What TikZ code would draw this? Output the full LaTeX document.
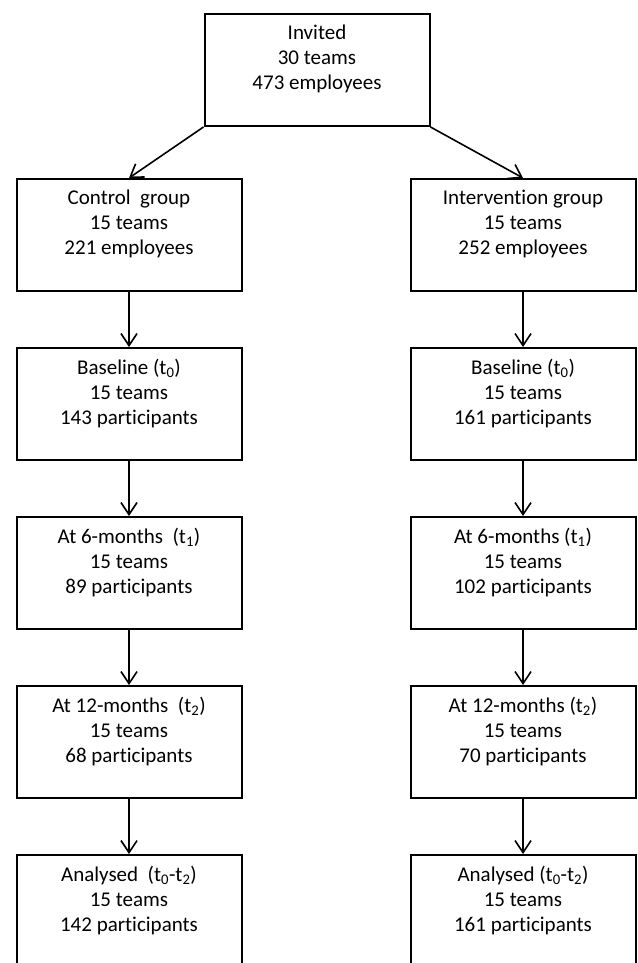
\documentclass[tikz,border=0pt]{standalone}
\usepackage{fontspec}
\setmainfont{Carlito}[Ligatures=CommonOff]
\usetikzlibrary{arrows.meta}
\begin{document}
\begin{tikzpicture}[x=1pt,y=-1pt,
  box/.style={draw=black, line width=2pt, rectangle, minimum width=225pt, minimum height=112pt,
    inner sep=0pt, align=center, anchor=north, font=\fontsize{21}{25}\selectfont},
  arr/.style={draw=black, line width=1.6pt, -{Straight Barb[length=12pt,width=16pt,line width=1.6pt]}}
]
\useasboundingbox (0,0) rectangle (637,963);
\node[box] (inv) at (317,13) {Invited\\30 teams\\473 employees\\\mbox{}};
\node[box] (c1) at (129,178) {Control~ group\\15 teams\\221 employees\\\mbox{}};
\node[box] (i1) at (523,178) {Intervention group\\15 teams\\252 employees\\\mbox{}};
\node[box] (c2) at (129,347) {Baseline (t\textsubscript{0})\\15 teams\\143 participants\\\mbox{}};
\node[box] (i2) at (523,347) {Baseline (t\textsubscript{0})\\15 teams\\161 participants\\\mbox{}};
\node[box] (c3) at (129,516) {At 6-months~ (t\textsubscript{1})\\15 teams\\89 participants\\\mbox{}};
\node[box] (i3) at (523,516) {At 6-months (t\textsubscript{1})\\15 teams\\102 participants\\\mbox{}};
\node[box] (c4) at (129,685) {At 12-months~ (t\textsubscript{2})\\15 teams\\68 participants\\\mbox{}};
\node[box] (i4) at (523,685) {At 12-months (t\textsubscript{2})\\15 teams\\70 participants\\\mbox{}};
\node[box] (c5) at (129,854) {Analysed~ (t\textsubscript{0}-t\textsubscript{2})\\15 teams\\142 participants\\\mbox{}};
\node[box] (i5) at (523,854) {Analysed (t\textsubscript{0}-t\textsubscript{2})\\15 teams\\161 participants\\\mbox{}};
\draw[arr] (inv.south west) -- (c1.north);
\draw[arr] (inv.south east) -- (i1.north);
\foreach \a/\b in {c1/c2,c2/c3,c3/c4,c4/c5,i1/i2,i2/i3,i3/i4,i4/i5}
  \draw[arr] (\a.south) -- (\b.north);
\end{tikzpicture}
\end{document}
